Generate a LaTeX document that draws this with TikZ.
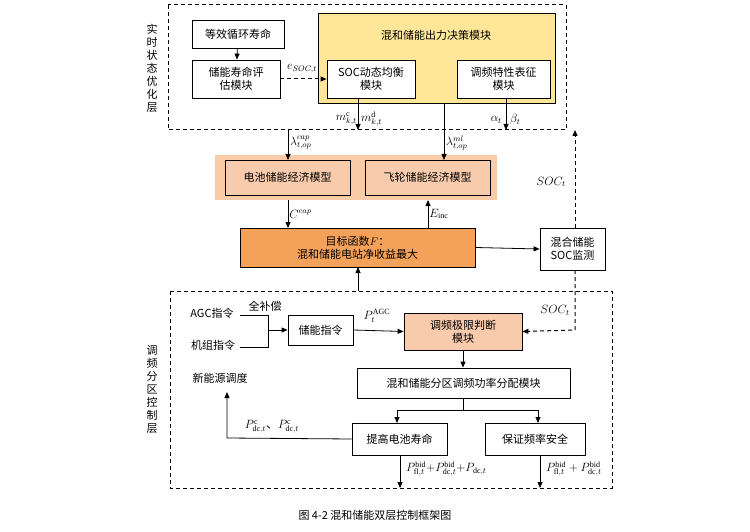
\documentclass[tikz,border=0pt]{standalone}
\usepackage{fontspec}
\setmainfont{Liberation Serif}
\newfontfamily\cjk{Noto Sans CJK SC}
\usetikzlibrary{arrows.meta}
\definecolor{yel}{HTML}{FFE699}
\definecolor{band}{HTML}{F9CBA6}
\definecolor{lor}{HTML}{F8CBAD}
\definecolor{dor}{HTML}{F4A25A}
\begin{document}
\begin{tikzpicture}[x=1pt,y=-1pt,
  every node/.style={font=\cjk\fontsize{11}{13}\selectfont, inner sep=1pt},
  box/.style={draw, thick, align=center, inner sep=0pt},
  arr/.style={-{Triangle[length=6pt,width=5pt]}, thick},
  dsh/.style={dash pattern=on 4pt off 3pt, line width=1pt},
  lab/.style={font=\fontsize{12}{14}\selectfont}]
\useasboundingbox (0,0) rectangle (750,532);
% top layer
\draw[dsh] (168,5) rectangle (566,130);
\node[align=center] (tl) at (152,68) {实\\时\\状\\态\\优\\化\\层};
\node[box, minimum width=92, minimum height=28] (eq) at (238,34) {等效循环寿命};
\node[box, minimum width=88, minimum height=38] (life) at (236,79) {储能寿命评\\估模块};
\node[box, fill=yel, minimum width=237, minimum height=90] (dec) at (436.5,58) {};
\node (dect) at (436,35) {混和储能出力决策模块};
\node[box, fill=white, minimum width=88, minimum height=38] (socb) at (371,79) {SOC动态均衡\\模块};
\node[box, fill=white, minimum width=93, minimum height=38] (fr) at (503.5,79) {调频特性表征\\模块};
\draw[arr] (eq) -- (life);
\draw[arr, dsh] (life) -- (socb);
\node[lab] (el) at (302,69) {$e_{SOC,t}$};
\coordinate (mA) at (358,130);
\draw[arr] (358,98) -- (mA);
\node[lab, anchor=east] (ml1) at (358,119) {$m^{\mathrm c}_{k,t}$};
\node[lab, anchor=west] (ml2) at (360,119) {$m^{\mathrm d}_{k,t}$};
\coordinate (aB) at (506,130);
\draw[arr] (506,98) -- (aB);
\node[lab, anchor=east] (a1) at (503,120) {$\alpha_t$};
\node[lab, anchor=west] (b1) at (509,120) {$\beta_t$};
% econ band
\node[fill=band, minimum width=282, minimum height=45, inner sep=0pt] (bandn) at (356,177.5) {};
\node[box, fill=lor, minimum width=125, minimum height=35] (bat) at (287.5,177.5) {电池储能经济模型};
\node[box, fill=lor, minimum width=125, minimum height=35] (fly) at (427.5,177.5) {飞轮储能经济模型};
\coordinate (lc) at (288,130);
\draw[arr] (lc) -- (288,160);
\node[lab, anchor=west] (lcl) at (289,143) {$\lambda^{cap}_{t,op}$};
\draw[arr] (444,103) -- (444,160);
\node[lab, anchor=west] (lml) at (445,143) {$\lambda^{ml}_{t,op}$};
\node[box, fill=dor, minimum width=235, minimum height=39] (obj) at (357.5,247.5) {目标函数$F$：\\混和储能电站净收益最大};
\draw[arr] (288,200) -- node[lab, right] {$C^{cap}$} (288,228);
\draw[arr] (428,228) -- node[lab, right] {$E_{\mathrm{inc}}$} (428,200);
\node[box, minimum width=65, minimum height=42] (mon) at (572.5,249) {混合储能\\SOC监测};
\draw[arr] (obj.east) -- (mon.west);
\draw[arr, dsh] (575,228) -- (575,130);
\node[lab] (soc1) at (551,182) {$SOC_t$};
% bottom layer
\draw[dsh] (170,291) rectangle (612,488);
\node[align=center] (bl) at (152,389) {调\\频\\分\\区\\控\\制\\层};
\draw[arr] (358,291) -- (358,267);
\node (agc) at (212,313) {AGC指令};
\node (unit) at (213,345) {机组指令};
\node (comp) at (265,306) {全补偿};
\node[box, minimum width=65, minimum height=30] (cmd) at (320.5,330) {储能指令};
\draw[thick] (240,315) -- (268,315) -- (268,347) -- (240,347);
\draw[arr] (268,330) -- (cmd.west);
\node[box, fill=lor, minimum width=118, minimum height=37] (lim) at (463,331.5) {调频极限判断\\模块};
\draw[arr] (cmd.east) -- (lim.west);
\node[lab] (pagc) at (377,316) {$P^{\mathrm{AGC}}_t$};
\draw[arr, dsh] (575,270) -- (575,330) -- (lim.east);
\node[lab] (soc2) at (555,310) {$SOC_t$};
\node[box, minimum width=213, minimum height=30] (alloc) at (463.5,383) {混和储能分区调频功率分配模块};
\draw[arr] (lim) -- (alloc.north -| lim);
\node[box, minimum width=95, minimum height=32] (bl2) at (399.5,439) {提高电池寿命};
\node[box, minimum width=100, minimum height=32] (fs) at (535,439) {保证频率安全};
\draw[thick] (463,398) -- (463,410);
\draw[arr] (397,410) -- (397,423);
\draw[arr] (538,410) -- (538,423);
\draw[thick] (397,410) -- (538,410);
\node (ren) at (220,378) {新能源调度};
\draw[arr] (bl2.west) -- (227,438) -- (227,392);
\node[lab] (pc) at (272,427) {$P^{\mathrm c}_{\mathrm{dc},t}${\cjk 、}$P^{\mathrm c}_{\mathrm{dc},t}$};
\coordinate (e1) at (400,488);
\coordinate (e2) at (540,488);
\draw[arr] (400,455) -- (e1);
\draw[arr] (540,455) -- (e2);
\node[lab, anchor=west] (p1) at (405,469) {$P^{\mathrm{bid}}_{\mathrm{fl},t}{+}P^{\mathrm{bid}}_{\mathrm{dc},t}{+}P_{\mathrm{dc},t}$};
\node[lab, anchor=west] (p2) at (545,469) {$P^{\mathrm{bid}}_{\mathrm{fl},t}+P^{\mathrm{bid}}_{\mathrm{dc},t}$};
\node (cap) at (375,515) {图 4-2 混和储能双层控制框架图};
\end{tikzpicture}
\end{document}
